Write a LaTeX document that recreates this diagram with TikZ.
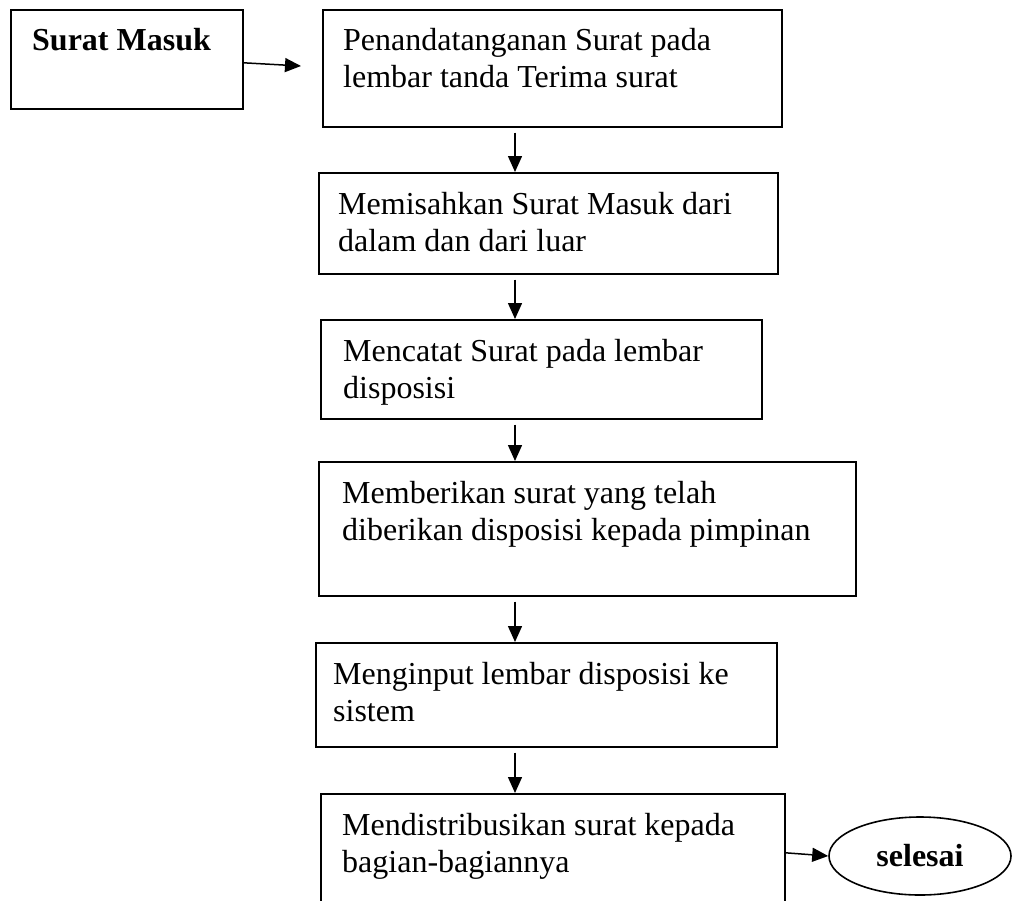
\documentclass[tikz,border=0pt]{standalone}
\usepackage{fontspec}
\setmainfont{Liberation Serif}
\usetikzlibrary{arrows.meta,shapes.geometric}
\begin{document}
\begin{tikzpicture}[x=1pt,y=-1pt,
  box/.style={draw,line width=1.6pt,rectangle,anchor=north west,inner sep=0pt},
  txt/.style={anchor=north west,inner sep=0pt,align=left,font=\fontsize{32}{37.5}\selectfont},
  arr/.style={line width=1.5pt,-{Triangle[length=16pt,width=14pt]}}]
\useasboundingbox (0,0) rectangle (1012,900);
% boxes
\node[box,minimum width=232pt,minimum height=99pt] (sm) at (10,9) {};
\node[box,minimum width=459pt,minimum height=117pt] (b1) at (322,9) {};
\node[box,minimum width=459pt,minimum height=101pt] (b2) at (318,172) {};
\node[box,minimum width=441pt,minimum height=99pt] (b3) at (320,319) {};
\node[box,minimum width=537pt,minimum height=134pt] (b4) at (318,461) {};
\node[box,minimum width=461pt,minimum height=104pt] (b5) at (315,642) {};
\node[box,minimum width=464pt,minimum height=112pt] (b6) at (320,793) {};
\node[draw,ellipse,line width=1.6pt,minimum width=182pt,minimum height=78pt,inner sep=0pt,
  font=\fontsize{32}{37.5}\selectfont\bfseries] (sel) at (920,856) {selesai};
% texts
\node[txt] (t0) at (32,24) {\strut\textbf{Surat Masuk}};
\node[txt] (t1) at (343,24) {\strut Penandatanganan Surat pada\\\strut lembar tanda Terima surat};
\node[txt] (t2) at (338,188) {\strut Memisahkan Surat Masuk dari\\\strut dalam dan dari luar};
\node[txt] (t3) at (343,335) {\strut Mencatat Surat pada lembar\\\strut disposisi};
\node[txt] (t4) at (342,477) {\strut Memberikan surat yang telah\\\strut diberikan disposisi kepada pimpinan};
\node[txt] (t5) at (333,658) {\strut Menginput lembar disposisi ke\\\strut sistem};
\node[txt] (t6) at (342,809) {\strut Mendistribusikan surat kepada\\\strut bagian-bagiannya};
% connectors
\coordinate (ax) at (515,0);
\coordinate (e1) at (301,66);
\draw[arr] ([yshift=-3.5pt]sm.east) -- (e1);
\draw[arr] ([yshift=-5pt]b1.south -| ax) -- (b2.north -| ax);
\draw[arr] ([yshift=-5pt]b2.south -| ax) -- (b3.north -| ax);
\draw[arr] ([yshift=-5pt]b3.south -| ax) -- (b4.north -| ax);
\draw[arr] ([yshift=-5pt]b4.south -| ax) -- (b5.north -| ax);
\draw[arr] ([yshift=-5pt]b5.south -| ax) -- (b6.north -| ax);
\draw[arr] ([yshift=-3pt]b6.east) -- (sel.west);
\end{tikzpicture}
\end{document}
